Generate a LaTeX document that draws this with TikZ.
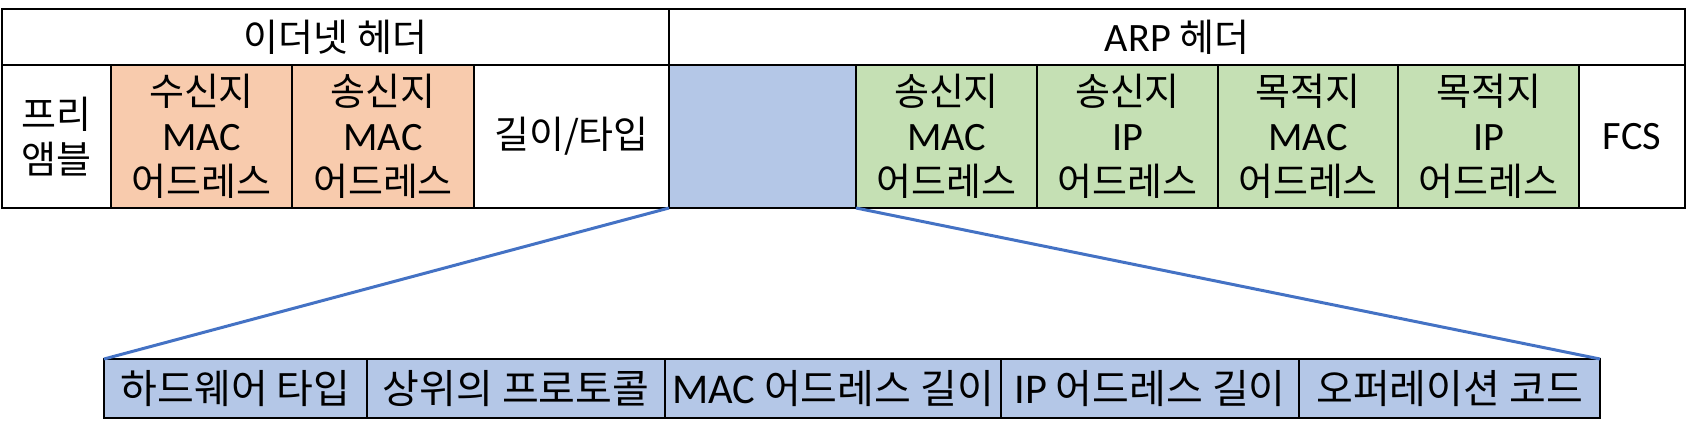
\documentclass[tikz,border=0pt]{standalone}
\usepackage{fontspec}
\setmainfont{Noto Sans CJK KR}
\newfontfamily\lat[Scale=1.06]{Carlito}
\usetikzlibrary{positioning}
\definecolor{orange1}{HTML}{F8CBAD}
\definecolor{green1}{HTML}{C5E0B4}
\definecolor{blue1}{HTML}{B4C7E7}
\definecolor{line1}{HTML}{4472C4}

\tikzset{
  cell/.style={draw=black, line width=2pt, inner sep=0pt, outer sep=0pt, align=center,
    minimum height=143pt, font=\fontsize{38}{45}\selectfont},
  head/.style={cell, minimum height=56pt},
  field/.style={cell, fill=blue1, minimum height=59pt, font=\fontsize{40}{45}\selectfont},
  ethbox/.style={cell, fill=orange1},
  arpbox/.style={cell, fill=green1},
  link/.style={draw=line1, line width=3pt}
}

\begin{document}
\begin{tikzpicture}[x=1pt, y=-1pt]
  \useasboundingbox (0,0) rectangle (1688,434);

  % header titles
  \node[head, minimum width=667pt] (eth) at (335.5,37) {이더넷 헤더};
  \node[head, minimum width=1016pt] (arp) at (1177,37) {{\lat ARP} 헤더};

  % frame fields
  \node[cell, minimum width=109pt] (pre) at (56.5,136.5) {프리\\앰블};
  \node[ethbox, minimum width=181pt, right=0pt of pre] (dstmac) {수신지\\{\lat MAC}\\어드레스};
  \node[ethbox, minimum width=182pt, right=0pt of dstmac] (srcmac) {송신지\\{\lat MAC}\\어드레스};
  \node[cell, minimum width=195pt, right=0pt of srcmac] (len) {길이/타입};
  \node[cell, fill=blue1, minimum width=187pt, right=0pt of len] (hdr) {};
  \node[arpbox, minimum width=181pt, right=0pt of hdr] (smac) {송신지\\{\lat MAC}\\어드레스};
  \node[arpbox, minimum width=181pt, right=0pt of smac] (sip) {송신지\\{\lat IP}\\어드레스};
  \node[arpbox, minimum width=180pt, right=0pt of sip] (tmac) {목적지\\{\lat MAC}\\어드레스};
  \node[arpbox, minimum width=181pt, right=0pt of tmac] (tip) {목적지\\{\lat IP}\\어드레스};
  \node[cell, minimum width=106pt, right=0pt of tip] (fcs) {{\lat FCS}};

  % ARP header detail
  \node[field, minimum width=263pt] (hw) at (235.5,388.5) {하드웨어 타입};
  \node[field, minimum width=298pt, right=0pt of hw] (proto) {상위의 프로토콜};
  \node[field, minimum width=336pt, right=0pt of proto] (maclen) {{\lat MAC} 어드레스 길이};
  \node[field, minimum width=298pt, right=0pt of maclen] (iplen) {{\lat IP} 어드레스 길이};
  \node[field, minimum width=301pt, right=0pt of iplen] (op) {오퍼레이션 코드};

  \draw[link] (hdr.south west) -- (hw.north west);
  \draw[link] (hdr.south east) -- (op.north east);
\end{tikzpicture}
\end{document}
